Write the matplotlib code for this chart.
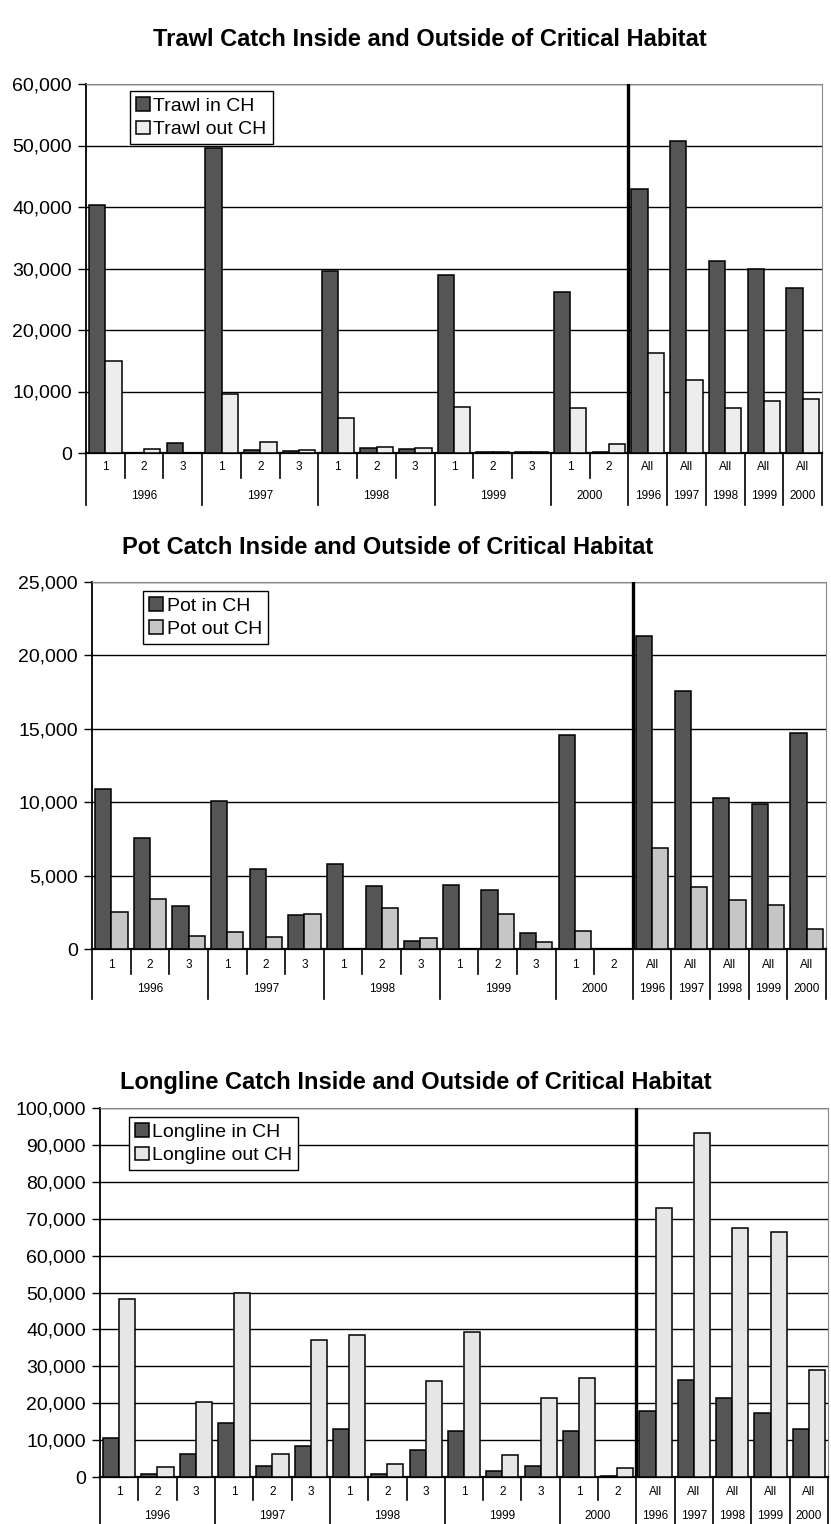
import matplotlib
matplotlib.use("Agg")
import matplotlib.pyplot as plt
import matplotlib.transforms as mtransforms
from matplotlib.lines import Line2D
from matplotlib.ticker import FuncFormatter, MultipleLocator
import numpy as np

plt.rcParams["font.family"] = ["Liberation Sans", "DejaVu Sans"]

# Category axis: month within year, then annual totals
month_labels = ["1", "2", "3", "1", "2", "3", "1", "2", "3", "1", "2", "3", "1", "2",
                "All", "All", "All", "All", "All"]
group_labels = ["1996", "1997", "1998", "1999", "2000",
                "1996", "1997", "1998", "1999", "2000"]
group_sizes = [3, 3, 3, 3, 2, 1, 1, 1, 1, 1]

# Trawl catch
trawl_in = [40300, 50, 1650, 49600, 550, 380, 29600, 800, 700, 29000, 100, 150, 26100, 150,
            43000, 50700, 31300, 29900, 26800]
trawl_out = [14900, 660, 0, 9600, 1760, 500, 5700, 950, 850, 7400, 200, 200, 7300, 1460,
             16300, 11900, 7300, 8500, 8800]

# Pot catch
pot_in = [10900, 7560, 2900, 10050, 5450, 2290, 5790, 4270, 550, 4390, 4030, 1100, 14600, 0,
          21300, 17600, 10300, 9900, 14700]
pot_out = [2540, 3400, 910, 1180, 820, 2380, 30, 2770, 750, 30, 2400, 450, 1250, 0,
           6900, 4250, 3350, 3000, 1350]

# Longline catch
longline_in = [10450, 900, 6250, 14700, 3100, 8300, 12950, 900, 7300, 12400, 1500, 3100, 12400, 300,
               18000, 26400, 21500, 17300, 13000]
longline_out = [48300, 2800, 20200, 49900, 6200, 37000, 38600, 3500, 26100, 39200, 6000, 21500, 26700, 2500,
                72800, 93300, 67500, 66400, 29000]

W, H = 831, 1524
fig = plt.figure(figsize=(W / 100, H / 100), dpi=100)

IN_COLOR = "#555555"


def px_axes(left, right, top, bottom):
    return [left / W, 1 - bottom / H, (right - left) / W, (bottom - top) / H]


def draw_panel(rect, title, title_xy, in_vals, out_vals, names, out_color,
               ymax, ystep, legend_anchor, month_off, year_off, short_len, long_len):
    ax = fig.add_axes(rect)
    n = len(in_vals)
    x = np.arange(n)
    w = 0.42
    ax.bar(x - w / 2, in_vals, w, color=IN_COLOR, edgecolor="black", linewidth=1.1,
           label=names[0], zorder=3)
    ax.bar(x + w / 2, out_vals, w, color=out_color, edgecolor="black", linewidth=1.1,
           label=names[1], zorder=3)

    ax.set_xlim(-0.5, n - 0.5)
    ax.set_ylim(0, ymax)
    ax.yaxis.set_major_locator(MultipleLocator(ystep))
    ax.yaxis.set_major_formatter(FuncFormatter(lambda v, p: f"{int(v):,}"))
    ax.grid(axis="y", color="black", linewidth=1.0, zorder=1)
    ax.set_xticks([])
    ax.tick_params(axis="y", direction="out", length=6, width=1.0, labelsize=14, pad=4)

    for s in ("top", "right"):
        ax.spines[s].set_color("#888888")
        ax.spines[s].set_linestyle((0, (1, 1)))
        ax.spines[s].set_linewidth(0.8)
    ax.spines["left"].set_linewidth(1.3)
    ax.spines["bottom"].set_linewidth(1.6)

    # thick divider between monthly and annual columns
    n_months = sum(group_sizes[:5])
    ax.axvline(n_months - 0.5, color="black", linewidth=2.4, zorder=4)

    # hierarchical category labels below the axis
    trans = mtransforms.blended_transform_factory(ax.transData, ax.transAxes)
    hpx = rect[3] * H
    mo = month_off / hpx
    yo = year_off / hpx
    sl = short_len / hpx
    ll = long_len / hpx
    for i, lab in enumerate(month_labels):
        ax.text(i, -mo, lab, transform=trans, ha="center", va="center", fontsize=8.5)
    start = 0
    bounds_long = [-0.5]
    for g, size in zip(group_labels, group_sizes):
        center = start + (size - 1) / 2
        ax.text(center, -yo, g, transform=trans, ha="center", va="center", fontsize=8.5)
        for k in range(1, size):
            b = start + k - 0.5
            ax.add_line(Line2D([b, b], [0, -sl], transform=trans, color="black",
                               linewidth=1.2, clip_on=False))
        start += size
        bounds_long.append(start - 0.5)
    for b in bounds_long:
        ax.add_line(Line2D([b, b], [0, -ll], transform=trans, color="black",
                           linewidth=1.2, clip_on=False))

    leg = ax.legend(loc="upper left", bbox_to_anchor=legend_anchor, fontsize=14,
                    frameon=True, fancybox=False, framealpha=1, edgecolor="black",
                    handlelength=0.7, handleheight=0.7, handletextpad=0.2,
                    borderpad=0.3, labelspacing=0.3, borderaxespad=0)
    leg.get_frame().set_linewidth(1.0)
    leg.set_zorder(6)

    fig.text(title_xy[0] / W, 1 - title_xy[1] / H, title, ha="center", va="center",
             fontsize=17, fontweight="bold")
    return ax


draw_panel(px_axes(86, 822, 84, 453),
           "Trawl Catch Inside and Outside of Critical Habitat", (430, 40),
           trawl_in, trawl_out, ["Trawl in CH", "Trawl out CH"], "#ededed",
           60000, 10000, (0.06, 0.98), 14, 43, 25, 52)

draw_panel(px_axes(92, 826, 582, 949),
           "Pot Catch Inside and Outside of Critical Habitat", (388, 548),
           pot_in, pot_out, ["Pot in CH", "Pot out CH"], "#c6c6c6",
           25000, 5000, (0.07, 0.975), 16, 40, 25, 50)

draw_panel(px_axes(100, 828, 1108, 1477),
           "Longline Catch Inside and Outside of Critical Habitat", (416, 1082),
           longline_in, longline_out, ["Longline in CH", "Longline out CH"], "#e6e6e6",
           100000, 10000, (0.04, 0.975), 15, 39, 23, 50)

fig.savefig("out.png", dpi=100)
